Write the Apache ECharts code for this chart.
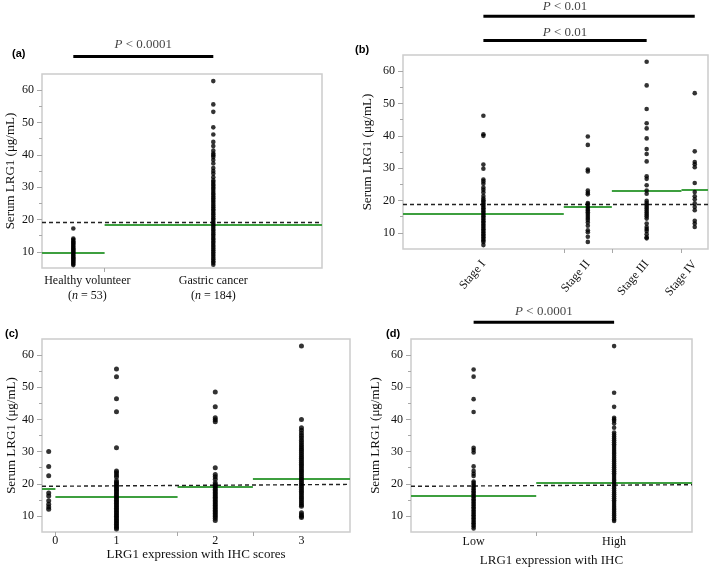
<!DOCTYPE html>
<html lang="en">
<head>
<meta charset="UTF-8">
<title>Serum LRG1</title>
<script src="https://cdn.jsdelivr.net/npm/echarts@6/dist/echarts.min.js"></script>
<style>
    * { margin: 0; padding: 0 }
    html, body { width: 100%; height: 100%; background: #fff }
    #main { width: 709px; height: 568px }
</style>
</head>
<body>
<div id="main"></div>
<script type="text/javascript">
// y ticks (shared)
var yMajor = [10, 20, 30, 40, 50, 60];
var yMinor = [15, 25, 35, 45, 55];

// (a) healthy volunteer vs gastric cancer
var namesA = ['Healthy volunteer', 'Gastric cancer'];
var nA = [53, 184];
var meanA = [9.7, 18.5];
var cutA = [19.1, 19.1];
var healthy = [17.2, 14.1, 13.7, 13.3, 12.9, 12.6, 12.2, 11.8, 11.5, 11.1, 10.8, 10.4, 10.1, 9.7, 9.4, 9.0, 8.7, 8.3, 8.0, 7.6, 7.3, 6.9, 6.6, 6.2, 5.9];
var gastric = [62.8, 55.6, 53.3, 48.5, 46.3, 44.0, 42.7, 41.3, 40.4, 39.9, 39.3, 38.4, 37.3, 35.9, 35.0, 34.2, 33.1,
    32.1, 31.6, 31.0, 30.5, 29.9, 29.4, 28.8, 28.2, 27.7, 27.1, 26.6, 26.0, 25.5, 24.9, 24.3, 23.8, 23.2, 22.7, 22.1,
    21.6, 21.0, 20.4, 19.9, 19.3, 18.8, 18.2, 17.7, 17.1, 16.6, 16.0, 15.4, 14.9, 14.3, 13.8, 13.2, 12.7, 12.1, 11.6,
    11.0, 10.5, 9.9, 9.3, 8.8, 8.2, 7.7, 7.1, 6.6, 6.0];

// (b) stage
var namesB = ['Stage I', 'Stage II', 'Stage III', 'Stage IV'];
var nB = [97, 29, 42, 16];
var meanB = [16.0, 18.0, 23.1, 23.4];
var cutB = [18.8, 18.8];
var stage1 = [46.2, 40.5, 40.0, 31.1, 29.8, 26.5, 25.9, 25.2, 24.0, 23.3, 22.5, 21.4, 20.6, 20.1, 19.6, 19.1, 18.6,
    18.1, 17.6, 17.1, 16.6, 16.1, 15.6, 15.1, 14.6, 14.1, 13.6, 13.1, 12.6, 12.1, 11.6, 11.1, 10.6, 10.1, 9.6, 9.1,
    8.6, 8.1, 7.6, 7.2, 6.2];
var stage2 = [39.8, 37.2, 29.6, 29.0, 23.1, 22.4, 21.9, 19.2, 18.8, 18.0, 17.4, 16.9, 16.4, 15.8, 15.2, 14.6, 14.0,
    13.2, 12.2, 10.8, 10.2, 8.8, 7.2];
var stage3 = [62.9, 55.6, 48.3, 43.9, 42.3, 39.2, 35.9, 34.4, 32.1, 27.5, 26.7, 24.7, 23.1, 22.1, 19.9, 19.3, 18.7,
    18.1, 17.5, 16.9, 16.3, 15.7, 15.1, 14.4, 12.9, 11.8, 11.2, 10.6, 9.6, 8.6, 8.3];
var stage4 = [53.2, 35.2, 31.9, 31.2, 30.3, 25.4, 22.6, 21.3, 20.4, 19.1, 18.0, 17.0, 13.7, 12.9, 11.8];

// (c) IHC scores
var namesC = ['0', '1', '2', '3'];
var nC = [8, 73, 45, 58];
var meanC = [18.6, 16.1, 19.0, 21.7];
var cutC = [19.2, 19.8];
var score0 = [30.0, 25.4, 22.5, 17.1, 16.2, 14.7, 13.6, 12.8, 12.1];
var score1 = [55.7, 53.3, 46.4, 42.4, 31.2, 24.0, 23.4, 22.7, 22.1, 20.9, 20.4, 19.9, 19.4, 18.9, 18.4, 17.9, 17.4,
    16.9, 16.4, 15.9, 15.4, 14.9, 14.4, 13.9, 13.4, 12.9, 12.4, 11.9, 11.4, 10.9, 10.4, 9.9, 9.4, 8.9, 8.4, 7.9, 7.4,
    6.9, 6.4, 5.9];
var score2 = [48.5, 43.9, 40.5, 39.9, 39.3, 25.0, 22.9, 22.2, 21.4, 20.3, 19.8, 19.3, 18.8, 18.3, 17.8, 17.3, 16.8,
    16.3, 15.8, 15.3, 14.8, 14.3, 13.8, 13.3, 12.8, 12.3, 11.8, 11.3, 10.8, 10.3, 9.8, 9.3, 8.6];
var score3 = [62.8, 40.0, 37.4, 36.6, 35.8, 35.0, 34.3, 33.5, 32.8, 32.1, 31.5, 30.9, 30.3, 29.7, 29.1, 28.5, 27.9,
    27.3, 26.7, 26.1, 25.5, 24.9, 24.3, 23.7, 23.1, 22.5, 21.9, 21.3, 20.7, 20.1, 19.5, 18.9, 18.3, 17.7, 17.1, 16.5,
    15.9, 15.3, 14.7, 14.1, 13.5, 13.0, 11.0, 10.4, 9.9, 9.5];

// (d) IHC low / high
var namesD = ['Low', 'High'];
var nD = [82, 102];
var meanD = [16.2, 20.3];
var cutD = [19.2, 19.7];
var lowIHC = [55.5, 53.3, 46.3, 42.3, 31.2, 30.5, 29.7, 25.4, 24.0, 23.1, 22.4, 20.7, 20.2, 19.7, 19.2, 18.7, 18.2,
    17.7, 17.2, 16.7, 16.2, 15.7, 15.2, 14.7, 14.2, 13.7, 13.2, 12.7, 12.2, 11.7, 11.2, 10.7, 10.2, 9.7, 9.2, 8.7,
    8.2, 7.7, 7.2, 6.7, 6.1];
var highIHC = [62.8, 48.3, 43.9, 40.5, 40.0, 39.5, 38.7, 37.4, 35.9, 35.3, 34.7, 34.1, 33.5, 32.9, 32.3, 31.7, 31.1,
    30.5, 29.9, 29.3, 28.7, 28.1, 27.5, 26.9, 26.3, 25.7, 25.1, 24.5, 23.9, 23.3, 22.7, 22.1, 21.5, 20.9, 20.3, 19.7,
    19.1, 18.5, 17.9, 17.3, 16.7, 16.1, 15.5, 14.9, 14.3, 13.7, 13.1, 12.5, 11.9, 11.3, 10.7, 10.1, 9.5, 8.9, 8.4];

var SERIF = "'Liberation Serif', 'Times New Roman', serif";
var GREEN = '#3d9f3f';
var GRAY = '#a8a8a8';
var TXT = { fontFamily: SERIF, fontSize: 12, color: '#111' };
var RICH = {
    t: TXT,
    ti: { fontFamily: SERIF, fontSize: 12, color: '#111', fontStyle: 'italic' },
    p: { fontFamily: SERIF, fontSize: 13, color: '#111' },
    pi: { fontFamily: SERIF, fontSize: 13, color: '#111', fontStyle: 'italic' }
};

var grids = [], xAxes = [], yAxes = [], series = [];

function addPanel(p) {
    var gi = grids.length;
    grids.push(Object.assign({ show: true, borderColor: '#cccccc', borderWidth: 1.5 }, p.box));
    var edges = [0];
    p.n.forEach(function (v, i) { edges.push(edges[i] + v); });
    var total = edges[edges.length - 1];
    var mids = p.n.map(function (v, i) { return (edges[i] + edges[i + 1]) / 2; });

    xAxes.push({
        gridIndex: gi, type: 'value', min: 0, max: total,
        axisLine: { show: false }, splitLine: { show: false },
        axisTick: { customValues: edges.slice(1, -1), length: 4, lineStyle: { color: GRAY } },
        axisLabel: Object.assign({
            customValues: mids,
            rich: RICH,
            formatter: function (v) {
                var k = 0;
                mids.forEach(function (m, j) { if (Math.abs(m - v) < Math.abs(mids[k] - v)) k = j; });
                return p.label(k);
            }
        }, p.xLabel),
        name: p.xName || '', nameLocation: 'middle', nameGap: p.xNameGap || 0,
        nameTextStyle: { fontFamily: SERIF, fontSize: 13, color: '#111' }
    });
    var yi = yAxes.length;
    yAxes.push({
        gridIndex: gi, type: 'value', min: 5, max: 65, position: 'left',
        axisLine: { show: false }, splitLine: { show: false },
        axisTick: { customValues: yMajor, length: 5, lineStyle: { color: GRAY } },
        axisLabel: { customValues: yMajor, margin: 8, fontFamily: SERIF, fontSize: 12, color: '#111' },
        name: 'Serum LRG1 (\u03bcg/mL)', nameLocation: 'middle', nameGap: p.yNameGap, nameRotate: 90,
        nameTextStyle: { fontFamily: SERIF, fontSize: 13, color: '#111' }
    });
    yAxes.push({
        gridIndex: gi, type: 'value', min: 5, max: 65, position: 'left',
        axisLine: { show: false }, splitLine: { show: false },
        axisTick: { customValues: yMinor, length: 3, lineStyle: { color: GRAY } },
        axisLabel: { show: false }
    });

    var pts = [];
    p.values.forEach(function (vals, i) {
        vals.forEach(function (v) { pts.push([mids[i], v]); });
    });
    var lines = p.means.map(function (m, i) {
        return [{ coord: [edges[i], m], lineStyle: { color: GREEN, width: 2, type: 'solid' } },
            { coord: [edges[i + 1], m] }];
    });
    lines.push([{ coord: [0, p.cut[0]], lineStyle: { color: '#222', width: 1.4, type: [4, 3] } },
        { coord: [total, p.cut[1]] }]);

    series.push({
        type: 'scatter', xAxisIndex: gi, yAxisIndex: yi, data: pts,
        symbolSize: p.dot, itemStyle: { color: '#000' }, silent: true, z: 3,
        markLine: { silent: true, symbol: 'none', label: { show: false }, data: lines, z: 2 }
    });

    // significance bars
    (p.bars || []).forEach(function (b) {
        series.push({
            type: 'line', xAxisIndex: gi, yAxisIndex: yi, clip: false, silent: true,
            symbol: 'none', lineStyle: { color: '#000', width: 3 },
            data: [[mids[b.from], b.y], [mids[b.to], b.y]]
        });
        var tx = (mids[b.from] + mids[b.textTo]) / 2;
        series.push({
            type: 'scatter', xAxisIndex: gi, yAxisIndex: yi, clip: false, silent: true,
            symbolSize: 1, itemStyle: { color: 'rgba(0,0,0,0)' },
            label: { show: true, position: 'inside', rich: RICH, formatter: '{pi|P}{p| < ' + b.text + '}' },
            data: [[tx, b.ty]]
        });
    });
}

addPanel({
    box: { left: 42, top: 74, width: 280, height: 194 },
    n: nA, values: [healthy, gastric], means: meanA, cut: cutA, dot: 4.6,
    label: function (i) {
        var pad = i === 0 ? '{s|}' : '';
        return pad + '{t|' + namesA[i] + '}\n' + pad + '{t|(}{ti|n}{t| = ' + nA[i] + ')}';
    },
    xLabel: { margin: 5, lineHeight: 15, rich: Object.assign({ s: { width: 28 } }, RICH) },
    yNameGap: 25,
    bars: [{ from: 0, to: 1, textTo: 1, y: 70.4, ty: 74.0, text: '0.0001' }]
});

addPanel({
    box: { left: 403, top: 55, width: 305, height: 194 },
    n: nB, values: [stage1, stage2, stage3, stage4], means: meanB, cut: cutB, dot: 4.6,
    label: function (i) { return '{t|' + namesB[i] + '}'; },
    xLabel: { rotate: 50, margin: 13 },
    yNameGap: 29,
    bars: [
        { from: 0, to: 3, textTo: 2, y: 77.0, ty: 80.1, text: '0.01' },
        { from: 0, to: 2, textTo: 2, y: 69.5, ty: 71.8, text: '0.01' }
    ]
});

addPanel({
    box: { left: 42, top: 339, width: 308, height: 193 },
    n: nC, values: [score0, score1, score2, score3], means: meanC, cut: cutC, dot: 5,
    label: function (i) { return (i === 0 ? '{s|}' : '') + '{t|' + namesC[i] + '}'; },
    xLabel: { margin: 3, rich: Object.assign({ s: { width: 13 } }, RICH) },
    xName: 'LRG1 expression with IHC scores', xNameGap: 14,
    yNameGap: 23
});

addPanel({
    box: { left: 411, top: 339, width: 281, height: 193 },
    n: nD, values: [lowIHC, highIHC], means: meanD, cut: cutD, dot: 4.6,
    label: function (i) { return '{t|' + namesD[i] + '}'; },
    xLabel: { margin: 4 },
    xName: 'LRG1 expression with IHC', xNameGap: 22,
    yNameGap: 29,
    bars: [{ from: 0, to: 1, textTo: 1, y: 70.2, ty: 73.4, text: '0.0001' }]
});

// panel letters
var letterFont = "bold 11px 'Liberation Sans', Arial, sans-serif";
var letters = [['(a)', 12, 48], ['(b)', 355, 44], ['(c)', 5, 328], ['(d)', 386, 328]];

var myChart = echarts.init(document.getElementById('main'));
myChart.setOption({
    animation: false,
    backgroundColor: '#fff',
    grid: grids,
    xAxis: xAxes,
    yAxis: yAxes,
    series: series,
    graphic: letters.map(function (l) {
        return { type: 'text', left: l[1], top: l[2], style: { text: l[0], font: letterFont, fill: '#000' } };
    })
});
</script>
</body>
</html>
